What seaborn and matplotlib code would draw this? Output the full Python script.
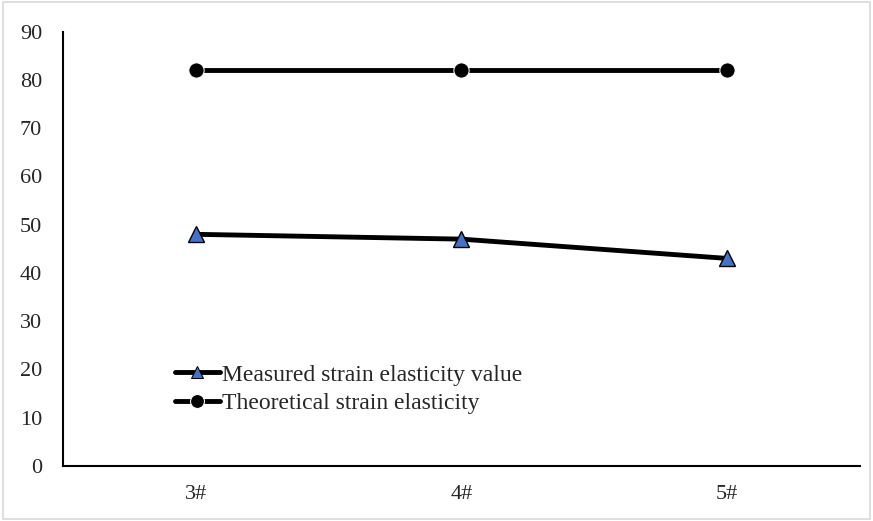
import pandas as pd
import matplotlib
matplotlib.use('Agg')
import matplotlib.pyplot as plt
import seaborn as sns

samples = ["3#", "4#", "5#"]
measured = [48, 47, 43]
theoretical = [82, 82, 82]

sns.set_style("white")
plt.rcParams['font.family'] = ['Liberation Serif', 'DejaVu Serif']

df = pd.DataFrame({
    "Sample": samples * 2,
    "Value": measured + theoretical,
    "Series": ["Measured strain elasticity value"] * 3 + ["Theoretical strain elasticity"] * 3,
})

fig = plt.figure(figsize=(8.73, 5.21), dpi=100)
ax = fig.add_axes([0.072, 0.106, 0.913, 0.833])

sns.lineplot(data=df, x="Sample", y="Value", hue="Series", style="Series",
             palette=["black", "black"], markers=["^", "o"], dashes=False,
             linewidth=3.5, markersize=11, ax=ax)
# recolour the triangle markers blue
ax.lines[0].set_markerfacecolor("#4472C4")
ax.lines[0].set_markeredgecolor("black")
ax.lines[0].set_markeredgewidth(1)

ax.set_xlim(-0.5, 2.5)
ax.set_ylim(0, 90)
ax.set_yticks(range(0, 91, 10))
ax.set_xlabel("")
ax.set_ylabel("")
ax.tick_params(labelsize=16, length=0)
ax.tick_params(axis='x', pad=14)
ax.tick_params(axis='y', pad=15)
for s in ["top", "right"]:
    ax.spines[s].set_visible(False)
for s in ["left", "bottom"]:
    ax.spines[s].set_color("black")
    ax.spines[s].set_linewidth(1.5)

leg = ax.legend(loc="upper left", bbox_to_anchor=(175 / 873, 1 - 364 / 521),
                bbox_transform=fig.transFigure, frameon=False, borderpad=0,
                borderaxespad=0, fontsize=17, handlelength=1.9,
                handletextpad=0.1, labelspacing=0.3)
leg.legend_handles[0].set_markerfacecolor("#4472C4")
leg.legend_handles[0].set_markeredgecolor("black")
leg.legend_handles[0].set_markersize(8)
leg.legend_handles[1].set_markersize(10)
for h in leg.legend_handles:
    h.set_linewidth(3.5)

fig.patches.append(plt.Rectangle((0.003, 0.003), 0.994, 0.994, transform=fig.transFigure,
                                 fill=False, edgecolor="#d9d9d9", linewidth=1.2))

fig.savefig("out.png", dpi=100)
